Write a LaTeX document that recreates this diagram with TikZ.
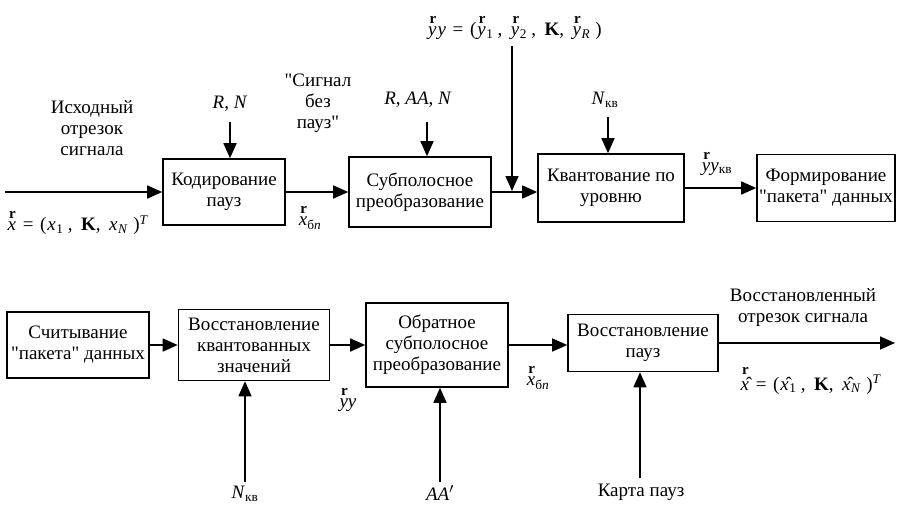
\documentclass[tikz,border=0pt]{standalone}
\usepackage{fontspec}
\setmainfont{Liberation Serif}
\usetikzlibrary{arrows.meta}
\tikzstyle{block} = [rectangle, draw, line width=1.6pt, align=center, inner sep=2pt]
\tikzstyle{line} = [draw, line width=1.6pt, -{Triangle[length=15pt,width=13pt]}]
\tikzstyle{lbl} = [align=center, inner sep=1pt]
\newcommand{\rv}[2][1.35ex]{\leavevmode\rlap{\raisebox{#1}{\hspace{0.08em}\fontsize{15}{15}\selectfont\bfseries r}}#2}
\newcommand{\qt}{\textquotedbl}
\newcommand{\sbs}[1]{\hspace{0.03em}\textsubscript{#1}\hspace{0.22em}}
\newcommand{\cm}{,\hspace{0.45em}}
\newcommand{\eq}{\hspace{0.35em}=\hspace{0.35em}}

\begin{document}
\begin{tikzpicture}[x=1pt, y=-1pt, font=\fontsize{19}{21}\selectfont]
    \useasboundingbox (0,0) rectangle (897,504);
    % coding side
    \node[block, minimum width=122pt, minimum height=66pt] (1) at (224,192) {Кодирование\\пауз};
    \node[block, minimum width=142pt, minimum height=70pt] (2) at (420,192) {Субполосное\\преобразование};
    \node[block, minimum width=146pt, minimum height=68pt] (3) at (611,188) {Квантование по\\уровню};
    \node[block, minimum width=138pt, minimum height=67pt] (4) at (826,188) {Формирование\\\qt{}пакета\qt{} данных};
    % decoding side
    \node[block, minimum width=142pt, minimum height=66pt] (5) at (78,345) {Считывание\\\qt{}пакета\qt{} данных};
    \node[block, minimum width=151pt, minimum height=71pt] (6) at (254,345) {Восстановление\\квантованных\\значений};
    \node[block, minimum width=142pt, minimum height=84pt] (7) at (437,345) {Обратное\\субполосное\\преобразование};
    \node[block, minimum width=150pt, minimum height=57pt] (8) at (643,343) {Восстановление\\пауз};

    % free ends
    \coordinate (in) at (5,192);
    \coordinate (rn) at (230,122);
    \coordinate (raan) at (427,122);
    \coordinate (nkv) at (608,117);
    \coordinate (ytop) at (512,46);
    \coordinate (yjoin) at (512,191);
    \coordinate (nkv2) at (245,482);
    \coordinate (aa) at (440,482);
    \coordinate (map) at (640,478);
    \coordinate (out) at (895,343);

    % labels
    \node[lbl] (srctxt) at (92,128) {Исходный\\отрезок\\сигнала};
    \node[lbl] (xin) at (78,223) {\rv{\textit{x}}\eq(\hspace{0.05em}\textit{x}\sbs{1}\cm\textbf{K}\cm\textit{x}\sbs{\textit{N}}\hspace{0.05em})\textsuperscript{\textit{T}}};
    \node[lbl] (rntxt) at (230,104) {\textit{R}, \textit{N}};
    \node[lbl] (nopause) at (318,103) {\qt{}Сигнал\\без\\пауз\qt{}};
    \node[lbl] (xbp) at (310,218) {\rv{\textit{x}}\textsubscript{б\textit{п}}};
    \node[lbl] (raantxt) at (418,100) {\textit{R}, \textit{AA}, \textit{N}};
    \node[lbl] (yytxt) at (515,28) {\rv{\textit{y}}\hspace{0.05em}\textit{y}\eq(\hspace{0.05em}\rv{\textit{y}}\sbs{1}\cm\rv{\textit{y}}\sbs{2}\cm\textbf{K}\cm\rv{\textit{y}}\sbs{\textit{R}}\hspace{0.05em})};
    \node[lbl] (nkvtxt) at (605,100) {\textit{N}\textsubscript{кв}};
    \node[lbl] (yykv) at (717,164) {\rv{\textit{y}}\textit{y}\textsubscript{кв}};
    \node[lbl] (yy) at (348,400) {\rv{\textit{y}}\textit{y}};
    \node[lbl] (xbp2) at (538,378) {\rv{\textit{x}}\textsubscript{б\textit{п}}};
    \node[lbl] (nkvtxt2) at (245,494) {\textit{N}\textsubscript{кв}};
    \node[lbl] (aatxt) at (440,493) {\textit{AA}$'$};
    \node[lbl] (maptxt) at (641,492) {Карта пауз};
    \node[lbl] (outtxt) at (803,308) {Восстановленный\\отрезок сигнала};
    \node[lbl] (xout) at (811,381) {\rv[1.75ex]{\^{\textit{x}}}\eq(\hspace{0.05em}\^{\textit{x}}\sbs{1}\cm\textbf{K}\cm\^{\textit{x}}\sbs{\textit{N}}\hspace{0.05em})\textsuperscript{\textit{T}}};

    % connectors
    \path[line] (in) -- (1);
    \path[line] (rn) -- (rn |- 1.north);
    \path[line] (1) -- (2);
    \path[line] (raan) -- (raan |- 2.north);
    \path[line] (2.east) -- (2.east -| 3.west);
    \path[line] (ytop) -- (yjoin);
    \path[line] (nkv) -- (nkv |- 3.north);
    \path[line] (3) -- (4);
    \path[line] (5) -- (6);
    \path[line] (nkv2) -- (nkv2 |- 6.south);
    \path[line] (6) -- (7);
    \path[line] (aa) -- (aa |- 7.south);
    \path[line] (7.east) -- (7.east -| 8.west);
    \path[line] (map) -- (map |- 8.south);
    \path[line] (8.east) -- (out);
\end{tikzpicture}
\end{document}
